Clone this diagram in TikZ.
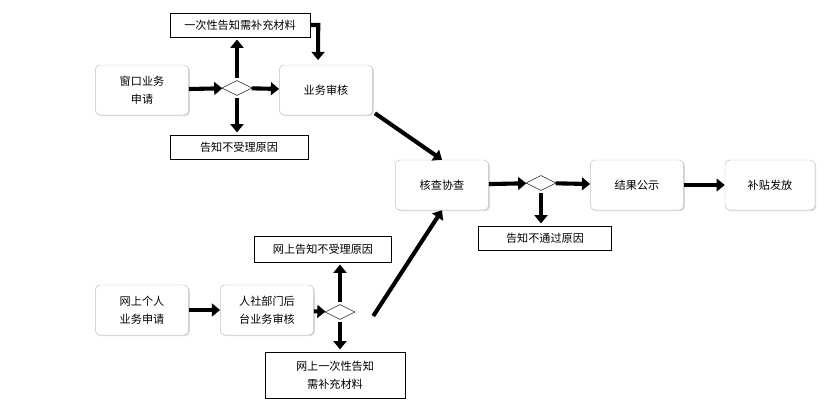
\documentclass[tikz,border=0pt]{standalone}
\usepackage{fontspec}
\setmainfont{Noto Sans CJK SC}
\usetikzlibrary{arrows.meta,shapes.geometric,shadows}
\tikzset{
  procbox/.style={draw=black!25, rounded corners=4pt, fill=white, minimum width=2.8cm, minimum height=1.5cm, align=center, font=\fontsize{9.5}{15}\selectfont, drop shadow={opacity=0.3, shadow xshift=1pt, shadow yshift=-1pt}},
  notebox/.style={draw, fill=white, minimum height=0.72cm, align=center, font=\fontsize{9.5}{15}\selectfont},
  gate/.style={draw, diamond, aspect=2, minimum width=0.9cm, minimum height=0.45cm, inner sep=0pt},
  fat/.style={line width=3.5pt, -{Triangle[length=7pt, width=11pt]}}
}
\begin{document}
\begin{tikzpicture}[x=0.03cm, y=-0.03cm]
  \useasboundingbox (0,0) rectangle (831,410);
  %upper branch
  \node[procbox] (window) at (142,90) {窗口业务\\申请};
  \node[gate] (gA) at (237,88) {};
  \node[procbox] (review) at (326,90) {业务审核};
  \node[notebox, minimum width=4.2cm] (supply) at (240,25) {一次性告知需补充材料};
  \node[notebox, minimum width=4.15cm] (reject) at (239,147) {告知不受理原因};
  %middle
  \node[procbox] (check) at (442,185) {核查协查};
  \node[gate] (gB) at (541,183) {};
  \node[procbox] (publish) at (637,185) {结果公示};
  \node[procbox, minimum width=2.7cm] (grant) at (770,185) {补贴发放};
  \node[notebox, minimum width=4cm] (fail) at (545,238) {告知不通过原因};
  %lower branch
  \node[procbox] (online) at (142,310) {网上个人\\业务申请};
  \node[procbox] (backend) at (267,310) {人社部门后\\台业务审核};
  \node[gate] (gC) at (340,312) {};
  \node[notebox, minimum width=4.1cm, minimum height=0.78cm] (onreject) at (323,249) {网上告知不受理原因};
  \node[notebox, minimum width=4.2cm, minimum height=1.38cm] (onsupply) at (335,375) {网上一次性告知\\需补充材料};
  %arrows
  \draw[fat] (window) -- (gA);
  \draw[fat] (gA) -- (review);
  \draw[fat] ([yshift=2pt]gA.north) -- ([yshift=-2pt]gA.north |- supply.south);
  \draw[fat] ([yshift=-2pt]gA.south) -- ([yshift=2pt]gA.south |- reject.north);
  \draw[fat] (supply.east) -- ++(8,0) -- ([yshift=4pt]review.north -| {(318,0)});
  \draw[fat] (review.south east) ++(2,-2) -- (check.north);
  \draw[fat] (gC.east) ++(18,4) -- (check.south);
  \draw[fat] (check) -- (gB);
  \draw[fat] (gB) -- (publish);
  \draw[fat] ([yshift=-2pt]gB.south) -- ([yshift=2pt]gB.south |- fail.north);
  \draw[fat] (publish) -- (grant);
  \draw[fat] (online) -- (backend);
  \draw[fat] (backend) -- (gC);
  \draw[fat] ([yshift=2pt]gC.north) -- ([yshift=-2pt]gC.north |- onreject.south);
  \draw[fat] ([yshift=-2pt]gC.south) -- ([yshift=2pt]gC.south |- onsupply.north);
\end{tikzpicture}
\end{document}
